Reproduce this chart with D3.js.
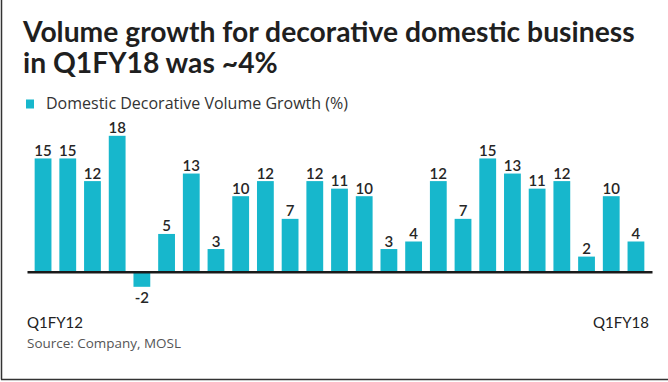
<!DOCTYPE html>
<html><head><meta charset="utf-8">
<script src="https://cdn.jsdelivr.net/npm/d3@7"></script>
<style>html,body{margin:0;padding:0;background:#fff;}svg{display:block;}</style>
</head><body>
<svg id="c" width="668" height="382"></svg>
<script>
const quarters = ["Q1FY12","Q2FY12","Q3FY12","Q4FY12","Q1FY13","Q2FY13","Q3FY13","Q4FY13","Q1FY14","Q2FY14","Q3FY14","Q4FY14","Q1FY15","Q2FY15","Q3FY15","Q4FY15","Q1FY16","Q2FY16","Q3FY16","Q4FY16","Q1FY17","Q2FY17","Q3FY17","Q4FY17","Q1FY18"];
const growth = [15,15,12,18,-2,5,13,3,10,12,7,12,11,10,3,4,12,7,15,13,11,12,2,10,4];
const shownTicks = ["Q1FY12","Q1FY18"];
const titleLines = ["Volume growth for decorative domestic business","in Q1FY18 was ~4%"];
const legendLabel = "Domestic Decorative Volume Growth (%)";
const sourceText = "Source: Company, MOSL";

const svg = d3.select("#c");
const barColor = "#17b7cc";
const font = "Lato, 'Open Sans', sans-serif";
const font2 = "'Open Sans', Lato, sans-serif";

function fit(sel, base, target) {
  const w = sel.node().getComputedTextLength();
  sel.attr("font-size", base * target / w);
  return base * target / w;
}

// border (left + bottom)
svg.append("line").attr("x1",1.5).attr("x2",1.5).attr("y1",0).attr("y2",379.5).attr("stroke","#333").attr("stroke-width",1.5);
svg.append("line").attr("x1",1).attr("x2",668).attr("y1",379.5).attr("y2",379.5).attr("stroke","#333").attr("stroke-width",1.5);

// title
const t1 = svg.append("text").attr("x",23).attr("y",42).attr("font-family",font).attr("font-weight",700)
  .attr("font-size",24).attr("fill","#1f1f1f").text(titleLines[0]);
const fs = fit(t1, 24, 612);
svg.append("text").attr("x",23).attr("y",73).attr("font-family",font).attr("font-weight",700)
  .attr("font-size",fs).attr("fill","#1f1f1f").text(titleLines[1]);

// legend
svg.append("rect").attr("x",26).attr("y",99.5).attr("width",8).attr("height",9).attr("fill",barColor);
const lg = svg.append("text").attr("x",46).attr("y",108.5).attr("font-family",font2).attr("font-size",14)
  .attr("fill","#333").text(legendLabel);
fit(lg, 14, 302);

const x = d3.scaleBand().domain(quarters).range([27,652]).paddingInner(0.32).paddingOuter(0.31);
const y = d3.scaleLinear().domain([-2,18]).range([286.8,135.8]);

svg.append("g").selectAll("rect").data(growth).join("rect")
  .attr("x",(d,i)=>x(quarters[i])).attr("width",x.bandwidth())
  .attr("y",d=>y(Math.max(0,d))).attr("height",d=>Math.abs(y(d)-y(0)))
  .attr("fill",barColor);

svg.append("g").selectAll("text").data(growth).join("text")
  .attr("x",(d,i)=>x(quarters[i])+x.bandwidth()/2)
  .attr("y",d=> d>=0 ? y(d)-2.5 : y(d)+16)
  .attr("text-anchor","middle").attr("font-family",font).attr("font-weight",600)
  .attr("font-size",15).attr("fill","#262626").text(d=>d);

// baseline axis
const xAxis = d3.axisBottom(x).tickValues([]).tickSizeOuter(0);
const ag = svg.append("g").attr("transform",`translate(0,${y(0)})`).call(xAxis);
ag.select(".domain").attr("stroke","#1a1a1a").attr("stroke-width",2.5);

// tick labels
svg.append("text").attr("x",27).attr("y",328).attr("font-family",font).attr("font-size",15)
  .attr("fill","#222").text(shownTicks[0]);
svg.append("text").attr("x",649).attr("y",328).attr("text-anchor","end").attr("font-family",font).attr("font-size",15)
  .attr("fill","#222").text(shownTicks[1]);

const src = svg.append("text").attr("x",27).attr("y",348).attr("font-family",font2).attr("font-size",12)
  .attr("fill","#555").text(sourceText);
fit(src, 12, 154);
</script>
</body></html>
